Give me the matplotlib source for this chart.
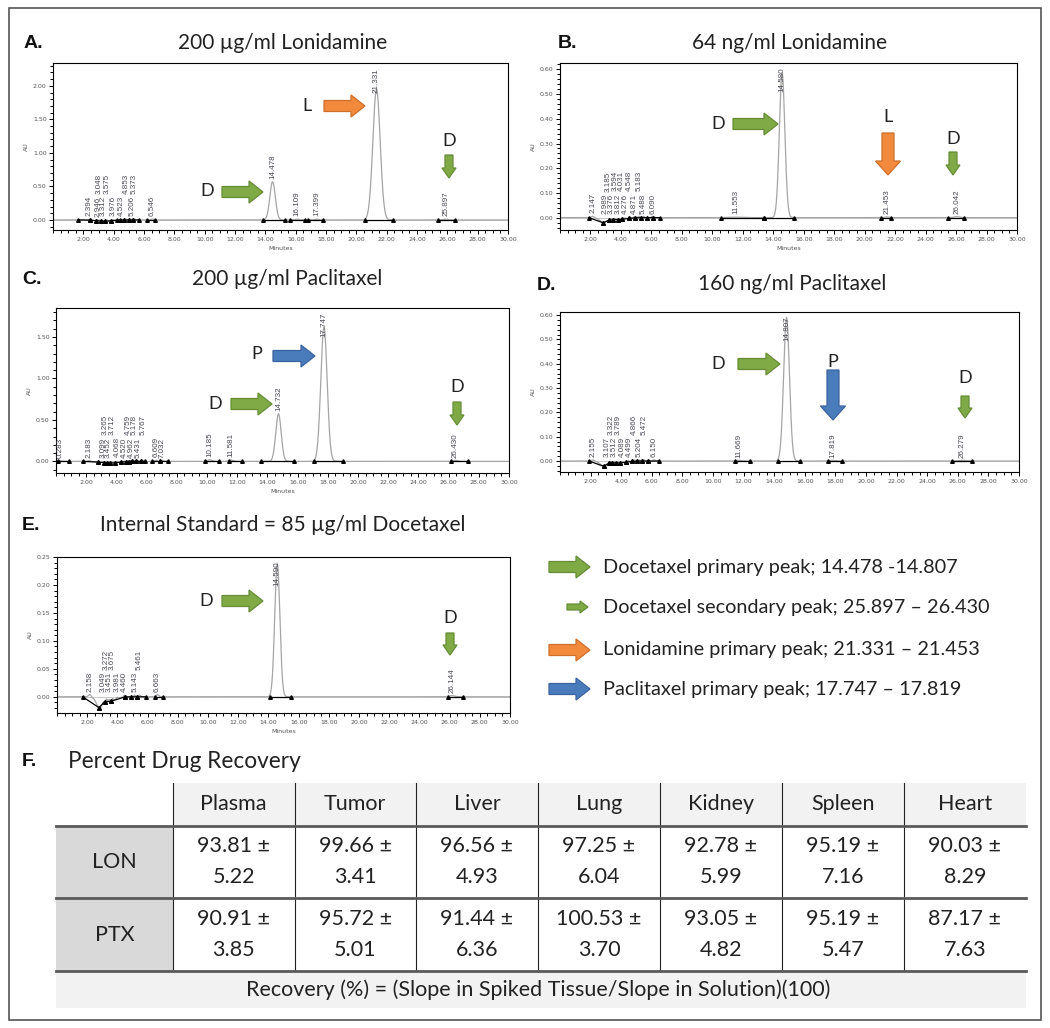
import numpy as np
import matplotlib
matplotlib.use('Agg')
import matplotlib.pyplot as plt
from matplotlib.patches import Polygon, Rectangle
from matplotlib.ticker import MultipleLocator, FixedLocator, FormatStrFormatter

W, H = 1050, 1028

# ---------------- chromatogram data (retention time, height, width) ----------------
A_rt = [2.394, 2.946, 3.048, 3.312, 3.575, 3.976, 4.523, 4.853, 5.206, 5.373, 6.546,
        14.478, 16.109, 17.399, 21.331, 25.897]
A_h = [0.010, 0.008, 0.012, 0.010, 0.015, 0.012, 0.010, 0.012, 0.010, 0.012, 0.015,
       0.57, 0.012, 0.012, 1.95, 0.012]
A_sig = [0.08, 0.06, 0.06, 0.06, 0.06, 0.07, 0.06, 0.06, 0.06, 0.06, 0.08,
         0.18, 0.12, 0.12, 0.24, 0.15]
A_dips = [(3.4, -0.02, 0.5)]
A_int_s = [1.67, 2.44, 2.85, 3.15, 3.45, 3.80, 4.40, 4.70, 5.00, 5.30, 6.18, 13.86, 15.62, 16.83, 20.56, 25.39]
A_int_e = [2.44, 2.85, 3.15, 3.45, 3.80, 4.20, 4.70, 5.00, 5.30, 5.70, 6.73, 15.29, 16.61, 17.81, 22.42, 26.49]

B_rt = [2.147, 2.989, 3.185, 3.376, 3.594, 3.812, 4.031, 4.276, 4.548, 4.871, 5.183, 5.488, 6.090,
        11.553, 14.580, 21.453, 26.042]
B_h = [0.006, 0.004, 0.003, 0.004, 0.005, 0.004, 0.005, 0.004, 0.005, 0.004, 0.006, 0.005, 0.005,
       0.002, 0.585, 0.003, 0.004]
B_sig = [0.08, 0.05, 0.05, 0.05, 0.05, 0.05, 0.05, 0.05, 0.06, 0.06, 0.06, 0.06, 0.08,
         0.5, 0.18, 0.12, 0.2]
B_dips = [(2.85, -0.018, 0.22), (3.7, -0.008, 0.6)]
B_int_s = [1.89, 2.85, 3.20, 3.50, 3.80, 4.10, 4.50, 4.90, 5.30, 5.70, 6.10, 10.57, 13.39, 21.10, 25.44]
B_int_e = [2.85, 3.20, 3.50, 3.80, 4.10, 4.50, 4.90, 5.30, 5.70, 6.10, 6.55, 13.39, 15.34, 21.75, 26.52]

C_rt = [0.283, 2.183, 3.099, 3.265, 3.452, 3.712, 4.068, 4.520, 4.759, 4.962, 5.178, 5.431, 5.767,
        6.609, 7.032, 10.185, 11.581, 14.732, 17.747, 26.430]
C_h = [0.010, 0.012, 0.010, 0.012, 0.010, 0.012, 0.015, 0.010, 0.012, 0.010, 0.012, 0.010, 0.012,
       0.015, 0.012, 0.020, 0.015, 0.575, 1.62, 0.012]
C_sig = [0.1, 0.1, 0.05, 0.05, 0.05, 0.06, 0.06, 0.05, 0.05, 0.05, 0.05, 0.05, 0.06,
         0.08, 0.08, 0.15, 0.15, 0.18, 0.21, 0.15]
C_dips = [(3.6, -0.02, 0.6)]
C_int_s = [0.10, 1.78, 2.78, 3.20, 3.40, 3.60, 3.90, 4.30, 4.65, 4.85, 5.05, 5.30, 5.60, 6.33, 6.88,
           9.88, 11.43, 13.59, 17.09, 26.19]
C_int_e = [0.85, 2.78, 3.20, 3.40, 3.60, 3.90, 4.30, 4.65, 4.85, 5.05, 5.30, 5.60, 5.88, 6.88, 7.44,
           10.77, 12.32, 15.76, 18.98, 27.30]

D_rt = [2.155, 3.107, 3.322, 3.512, 3.789, 4.089, 4.499, 4.866, 5.204, 5.472, 6.150,
        11.669, 14.807, 17.819, 26.279]
D_h = [0.005, 0.004, 0.004, 0.005, 0.004, 0.005, 0.004, 0.005, 0.004, 0.005, 0.005,
       0.003, 0.59, 0.003, 0.003]
D_sig = [0.08, 0.05, 0.05, 0.05, 0.06, 0.06, 0.06, 0.06, 0.06, 0.06, 0.08,
         0.2, 0.19, 0.15, 0.25]
D_dips = [(2.85, -0.02, 0.22), (3.8, -0.008, 0.5)]
D_int_s = [1.90, 2.85, 3.20, 3.40, 3.65, 3.95, 4.30, 4.70, 5.05, 5.35, 5.75, 11.45, 14.26, 17.50, 25.65]
D_int_e = [2.85, 3.20, 3.40, 3.65, 3.95, 4.30, 4.70, 5.05, 5.35, 5.75, 6.45, 12.45, 15.67, 18.40, 26.95]

E_rt = [2.158, 3.049, 3.272, 3.451, 3.675, 3.981, 4.460, 5.143, 5.461, 6.663, 14.590, 26.144]
E_h = [0.004, 0.003, 0.004, 0.003, 0.004, 0.003, 0.003, 0.003, 0.003, 0.004, 0.238, 0.002]
E_sig = [0.08, 0.05, 0.05, 0.05, 0.05, 0.06, 0.06, 0.06, 0.06, 0.08, 0.17, 0.2]
E_dips = [(2.8, -0.018, 0.2), (3.5, -0.008, 0.4)]
E_int_s = [1.70, 2.77, 3.15, 3.60, 4.48, 4.90, 5.30, 6.48, 14.13, 25.90]
E_int_e = [2.77, 3.15, 3.60, 4.48, 4.90, 5.30, 5.90, 7.03, 15.47, 26.90]

panel_titles = ["200 µg/ml Lonidamine", "64 ng/ml Lonidamine", "200 µg/ml Paclitaxel",
                "160 ng/ml Paclitaxel", "Internal Standard = 85 µg/ml Docetaxel"]
panel_letters = ["A.", "B.", "C.", "D.", "E."]

# ---------------- recovery table data ----------------
tissues = ["Plasma", "Tumor", "Liver", "Lung", "Kidney", "Spleen", "Heart"]
drugs = ["LON", "PTX"]
LON_mean = ["93.81", "99.66", "96.56", "97.25", "92.78", "95.19", "90.03"]
LON_sd = ["5.22", "3.41", "4.93", "6.04", "5.99", "7.16", "8.29"]
PTX_mean = ["90.91", "95.72", "91.44", "100.53", "93.05", "95.19", "87.17"]
PTX_sd = ["3.85", "5.01", "6.36", "3.70", "4.82", "5.47", "7.63"]
footer = "Recovery (%) = (Slope in Spiked Tissue/Slope in Solution)(100)"

legend_labels = ["Docetaxel primary peak; 14.478 -14.807",
                 "Docetaxel secondary peak; 25.897 \u2013 26.430",
                 "Lonidamine primary peak; 21.331 \u2013 21.453",
                 "Paclitaxel primary peak; 17.747 \u2013 17.819"]

GREEN, GREEN_E = '#80aa46', '#668c35'
ORANGE, ORANGE_E = '#f28a3e', '#d06f28'
BLUE, BLUE_E = '#4a7cbb', '#3a64a0'

fig = plt.figure(figsize=(W / 100, H / 100), dpi=100)


def add_ax(l, t, r, b):
    return fig.add_axes([l / W, 1 - b / H, (r - l) / W, (b - t) / H])


def draw_panel(box, ylim, ymaj, ymin, rts, hs, sigs, dips, ist, iend, xlabel=True):
    l, t, r, b = box
    ax = add_ax(l, t, r, b)
    x = np.linspace(0, 30, 4000)
    base = np.zeros_like(x)
    for c, h, s in dips:
        base += h * np.exp(-0.5 * ((x - c) / s) ** 2)
    y = base.copy()
    for rt, h, s in zip(rts, hs, sigs):
        y += h * np.exp(-0.5 * ((x - rt) / s) ** 2)
    ax.axhline(0, color='#c8c8c8', lw=0.7, zorder=1)
    ax.plot(x, y, color='#a5a5a5', lw=0.9, zorder=2)
    for s, e in zip(ist, iend):
        ys, ye = np.interp(s, x, base), np.interp(e, x, base)
        ax.plot([s, e], [ys, ye], color='black', lw=0.9, zorder=3)
        ax.plot([s, e], [ys, ye], ls='none', marker='^', ms=2.6, color='black', zorder=3)
    axh_pt = (b - t) * 0.72
    fs = 5.8
    prev_rt, row = -10.0, 0
    for rt, h in zip(rts, hs):
        lab = "%.3f" % rt
        ln = (len(lab) - 1) * 0.556 * fs + 0.278 * fs
        # stack crowded labels in two rows, like the instrument software does
        if rt - prev_rt < 0.4:
            row = 1 - row
        else:
            row = 0
        prev_rt = rt
        lift = 2 + row * (ln + 1.5)
        frac = (h - ylim[0]) / (ylim[1] - ylim[0])
        if frac * axh_pt + lift + ln > axh_pt - 3.5:
            ax.annotate(lab, xy=(rt, 1), xycoords=('data', 'axes fraction'), xytext=(0, -3.5),
                        textcoords='offset points', rotation=90, ha='center', va='top',
                        fontsize=fs, family='Liberation Sans', color='#4a4a55', zorder=4)
        else:
            ax.annotate(lab, xy=(rt, h), xytext=(0, lift), textcoords='offset points',
                        rotation=90, ha='center', va='bottom', fontsize=fs,
                        family='Liberation Sans', color='#4a4a55', zorder=4)
    ax.set_xlim(0, 30)
    ax.set_ylim(*ylim)
    ax.xaxis.set_major_locator(FixedLocator(np.arange(2, 31, 2)))
    ax.xaxis.set_minor_locator(MultipleLocator(0.5))
    ax.yaxis.set_major_locator(MultipleLocator(ymaj))
    ax.yaxis.set_minor_locator(MultipleLocator(ymin))
    ax.xaxis.set_major_formatter(FormatStrFormatter('%.2f'))
    ax.yaxis.set_major_formatter(FormatStrFormatter('%.2f'))
    ax.tick_params(which='both', direction='out', labelsize=4.5, labelcolor='#555555',
                   width=0.7, pad=1.5)
    ax.tick_params(which='major', length=3.2)
    ax.tick_params(which='minor', length=2.2)
    for sp in ax.spines.values():
        sp.set_linewidth(0.8)
    ax.set_ylabel('AU', fontsize=4.5, color='#555555', labelpad=3)
    if xlabel:
        ax.set_xlabel('Minutes', fontsize=4.5, color='#555555', labelpad=3)
    return ax


draw_panel((53, 63, 508, 230), (-0.15, 2.34), 0.5, 0.1, A_rt, A_h, A_sig, A_dips, A_int_s, A_int_e)
draw_panel((560, 63, 1017, 230), (-0.05, 0.626), 0.1, 0.02, B_rt, B_h, B_sig, B_dips, B_int_s, B_int_e)
draw_panel((56, 308, 509, 473), (-0.14, 1.85), 0.5, 0.1, C_rt, C_h, C_sig, C_dips, C_int_s, C_int_e)
draw_panel((560, 312, 1019, 472), (-0.045, 0.613), 0.1, 0.02, D_rt, D_h, D_sig, D_dips, D_int_s, D_int_e,
           xlabel=False)
draw_panel((57, 557, 510, 713), (-0.029, 0.25), 0.05, 0.01, E_rt, E_h, E_sig, E_dips, E_int_s, E_int_e)

# ---------------- overlay in pixel coordinates ----------------
ov = fig.add_axes([0, 0, 1, 1])
ov.set_xlim(0, W)
ov.set_ylim(H, 0)
ov.axis('off')
ov.set_zorder(10)

TF = 'Lato'


def right_arrow(x0, x1, y, w, hw, hl, fc, ec):
    pts = [(x0, y - w / 2), (x1 - hl, y - w / 2), (x1 - hl, y - hw / 2), (x1, y),
           (x1 - hl, y + hw / 2), (x1 - hl, y + w / 2), (x0, y + w / 2)]
    ov.add_patch(Polygon(pts, closed=True, fc=fc, ec=ec, lw=0.9, zorder=5))


def down_arrow(x, y0, y1, w, hw, hl, fc, ec):
    pts = [(x - w / 2, y0), (x - w / 2, y1 - hl), (x - hw / 2, y1 - hl), (x, y1),
           (x + hw / 2, y1 - hl), (x + w / 2, y1 - hl), (x + w / 2, y0)]
    ov.add_patch(Polygon(pts, closed=True, fc=fc, ec=ec, lw=0.9, zorder=5))


def letter(x, y, s):
    ov.text(x, y, s, ha='center', va='center', fontsize=13, family=TF, color='#222222', zorder=6)


# titles and panel letters
title_pos = [(283, 43), (790, 43), (287, 279), (792, 284), (283, 525)]
letter_pos = [(24, 43), (558, 43), (22, 280), (537, 285), (22, 525)]
for (tx, ty), s in zip(title_pos, panel_titles):
    ov.text(tx, ty, s, ha='center', va='center', fontsize=15, family=TF, color='#222222')
for (lx, ly), s in zip(letter_pos, panel_letters):
    ov.text(lx, ly, s, ha='left', va='center', fontsize=14, family='Liberation Sans',
            weight='bold', color='#111111')

# arrows on panels
# A
right_arrow(222, 263, 192, 11, 22, 14, GREEN, GREEN_E); letter(207, 191, 'D')
right_arrow(324, 365, 106, 11, 22, 14, ORANGE, ORANGE_E); letter(307, 106, 'L')
down_arrow(449, 155, 178, 8, 14, 10, GREEN, GREEN_E); letter(449, 141, 'D')
# B
right_arrow(733, 778, 124, 11, 22, 14, GREEN, GREEN_E); letter(718, 124, 'D')
down_arrow(888, 133, 175, 12, 25, 14, ORANGE, ORANGE_E); letter(888, 117, 'L')
down_arrow(953, 152, 175, 8, 14, 10, GREEN, GREEN_E); letter(953, 139, 'D')
# C
right_arrow(273, 315, 356, 11, 22, 14, BLUE, BLUE_E); letter(257, 354, 'P')
right_arrow(231, 272, 404, 11, 22, 14, GREEN, GREEN_E); letter(215, 404, 'D')
down_arrow(457, 402, 425, 8, 14, 10, GREEN, GREEN_E); letter(457, 387, 'D')
# D
right_arrow(738, 780, 364, 11, 22, 14, GREEN, GREEN_E); letter(718, 364, 'D')
down_arrow(833, 370, 420, 12, 25, 14, BLUE, BLUE_E); letter(833, 362, 'P')
down_arrow(965, 396, 418, 8, 14, 10, GREEN, GREEN_E); letter(965, 378, 'D')
# E
right_arrow(222, 263, 601, 11, 22, 14, GREEN, GREEN_E); letter(206, 601, 'D')
down_arrow(450, 633, 655, 8, 14, 10, GREEN, GREEN_E); letter(450, 618, 'D')

# legend
leg_y = [567, 607, 650, 689]
right_arrow(549, 590, leg_y[0], 11, 22, 14, GREEN, GREEN_E)
right_arrow(567, 588, leg_y[1], 6, 12, 8, GREEN, GREEN_E)
right_arrow(549, 590, leg_y[2], 11, 22, 14, ORANGE, ORANGE_E)
right_arrow(549, 590, leg_y[3], 11, 22, 14, BLUE, BLUE_E)
for y, s in zip(leg_y, legend_labels):
    ov.text(603, y, s, ha='left', va='center', fontsize=14.3, family=TF, color='#222222')

# section F
ov.text(22, 762, "F.", ha='left', va='center', fontsize=14, family='Liberation Sans',
        weight='bold', color='#111111')
ov.text(68, 762, "Percent Drug Recovery", ha='left', va='center', fontsize=16.3, family=TF,
        color='#222222')

col_x = [56, 173, 294.5, 416, 538, 660, 782, 904, 1026]
row_y = [783, 826, 898, 971, 1008]
# backgrounds
ov.add_patch(Rectangle((col_x[1], row_y[0]), col_x[-1] - col_x[1], row_y[1] - row_y[0],
                       fc='#f2f2f2', ec='none'))
ov.add_patch(Rectangle((col_x[0], row_y[1]), col_x[1] - col_x[0], row_y[3] - row_y[1],
                       fc='#d9d9d9', ec='none'))
ov.add_patch(Rectangle((col_x[0], row_y[3]), col_x[-1] - col_x[0], row_y[4] - row_y[3],
                       fc='#f2f2f2', ec='none'))
for cx in col_x[1:-1]:
    ov.plot([cx, cx], [row_y[0], row_y[3]], color='#222222', lw=0.8)
for ry in row_y[1:4]:
    ov.plot([col_x[0], col_x[-1]], [ry, ry], color='#5a5a5a', lw=2.0)

TS = 15.5
for i, t in enumerate(tissues):
    cx = (col_x[i + 1] + col_x[i + 2]) / 2
    ov.text(cx, 804, t, ha='center', va='center', fontsize=TS, family=TF, color='#222222')
    ov.text(cx, 846, LON_mean[i] + " \u00b1", ha='center', va='center', fontsize=TS, family=TF,
            color='#222222')
    ov.text(cx, 877, LON_sd[i], ha='center', va='center', fontsize=TS, family=TF, color='#222222')
    ov.text(cx, 919, PTX_mean[i] + " \u00b1", ha='center', va='center', fontsize=TS, family=TF,
            color='#222222')
    ov.text(cx, 950, PTX_sd[i], ha='center', va='center', fontsize=TS, family=TF, color='#222222')
for ry, d in zip([862, 935], drugs):
    ov.text((col_x[0] + col_x[1]) / 2, ry, d, ha='center', va='center', fontsize=TS, family=TF,
            color='#222222')
ov.text(538, 990, footer, ha='center', va='center', fontsize=TS, family=TF, color='#222222')

# outer frame
ov.add_patch(Rectangle((9, 8), 1032, 1012, fill=False, ec='#555555', lw=1.2))

fig.savefig('out.png', dpi=100)
